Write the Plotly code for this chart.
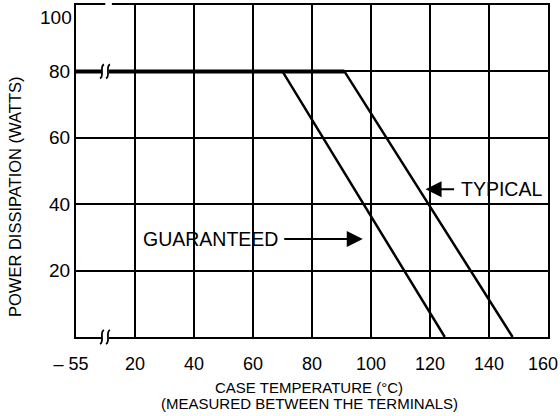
import plotly.graph_objects as go

# ---- data ----
x_tick_vals = [0, 20, 40, 60, 80, 100, 120, 140, 160]
x_tick_labels = ["– 55\u00a0\u00a0", "20", "40", "60", "80", "100", "120", "140", "160\u00a0\u00a0"]
y_tick_vals = [20, 40, 60, 80]
y_tick_labels = ["20", "40", "60", "80"]
y_top_label = "100"

temp_guaranteed = [0, 70, 125]
power_guaranteed = [80, 80, 0]
temp_typical = [0, 91, 148]
power_typical = [80, 80, 0]

FONT = "Liberation Sans, Arial, Helvetica, sans-serif"

fig = go.Figure()
fig.add_trace(go.Scatter(x=temp_guaranteed, y=power_guaranteed, mode="lines",
                         line=dict(color="black", width=2.5), hoverinfo="skip"))
fig.add_trace(go.Scatter(x=temp_typical, y=power_typical, mode="lines",
                         line=dict(color="black", width=2.5), hoverinfo="skip"))
# thicker common flat section
fig.add_trace(go.Scatter(x=temp_typical[:2], y=power_typical[:2], mode="lines",
                         line=dict(color="black", width=4), hoverinfo="skip"))

fig.update_xaxes(range=[0, 160], tickvals=x_tick_vals, ticktext=x_tick_labels,
                 showgrid=True, gridcolor="black", gridwidth=1.5,
                 showline=True, linecolor="black", linewidth=2, mirror=True,
                 zeroline=False, ticks="", fixedrange=True, ticklabelstandoff=9,
                 ticklabeloverflow="allow", automargin=False,
                 tickfont=dict(family=FONT, size=18, color="black"))
fig.update_yaxes(range=[0, 100], tickvals=y_tick_vals, ticktext=y_tick_labels,
                 showgrid=True, gridcolor="black", gridwidth=1.5,
                 showline=True, linecolor="black", linewidth=2, mirror=True,
                 zeroline=False, ticks="", fixedrange=True, ticklabelstandoff=0,
                 ticklabeloverflow="allow", automargin=False,
                 tickfont=dict(family=FONT, size=19, color="black"))

shapes = []
# gap in top border
shapes.append(dict(type="rect", xref="paper", yref="paper", x0=0.062, x1=0.076,
                   y0=0.985, y1=1.02, fillcolor="white", line=dict(width=0), layer="above"))
# break marks
brk = "M -6,-7 C -1,-5 -7,5 -2,7 M 0,-7 C 5,-5 -1,5 4,7"
for yp in [0.8, 0.0]:
    shapes.append(dict(type="rect", xref="paper", yref="paper", xsizemode="pixel", ysizemode="pixel",
                       xanchor=0.0635, yanchor=yp, x0=-4, x1=3, y0=-3, y1=3,
                       fillcolor="white", line=dict(width=0), layer="above"))
    shapes.append(dict(type="path", xref="paper", yref="paper", xsizemode="pixel", ysizemode="pixel",
                       xanchor=0.0635, yanchor=yp, path=brk,
                       line=dict(color="black", width=1.8), layer="above"))

annotations = [
    dict(x=0, y=1, xref="paper", yref="paper", text=y_top_label, showarrow=False,
         xanchor="right", yanchor="top", xshift=-2, yshift=0,
         font=dict(family=FONT, size=19, color="black")),
    dict(x=118.5, y=44.5, xref="x", yref="y", text="", showarrow=True, ax=30, ay=0,
         arrowhead=2, arrowsize=1.6, arrowwidth=2, arrowcolor="black"),
    dict(x=129.8, y=44.5, xref="x", yref="y", text="TYPICAL", showarrow=False,
         xanchor="left", yanchor="middle", font=dict(family=FONT, size=19.5, color="black")),
    dict(x=97.2, y=29.5, xref="x", yref="y", text="", showarrow=True, ax=-80, ay=0,
         arrowhead=2, arrowsize=1.6, arrowwidth=2, arrowcolor="black"),
    dict(x=22, y=29.5, xref="x", yref="y", text="GUARANTEED", showarrow=False,
         xanchor="left", yanchor="middle", font=dict(family=FONT, size=19.5, color="black")),
    dict(x=0.494, y=-0.1536, xref="paper", yref="paper", text="CASE TEMPERATURE (°C)",
         showarrow=False, xanchor="center", yanchor="middle",
         font=dict(family=FONT, size=15, color="black")),
    dict(x=0.494, y=-0.1988, xref="paper", yref="paper", text="(MEASURED BETWEEN THE TERMINALS)",
         showarrow=False, xanchor="center", yanchor="middle",
         font=dict(family=FONT, size=15, color="black")),
    dict(x=-0.129, y=0.422, xref="paper", yref="paper", text="POWER DISSIPATION (WATTS)",
         showarrow=False, textangle=-90, xanchor="center", yanchor="middle",
         font=dict(family=FONT, size=16.5, color="black")),
]

fig.update_layout(width=560, height=416, margin=dict(l=76, r=12, t=5, b=79, autoexpand=False),
                  paper_bgcolor="white", plot_bgcolor="white", showlegend=False,
                  shapes=shapes, annotations=annotations)

fig.write_html("out.html", config={"displayModeBar": False},
               post_script="document.body.style.margin='0';document.body.style.overflow='hidden';")
